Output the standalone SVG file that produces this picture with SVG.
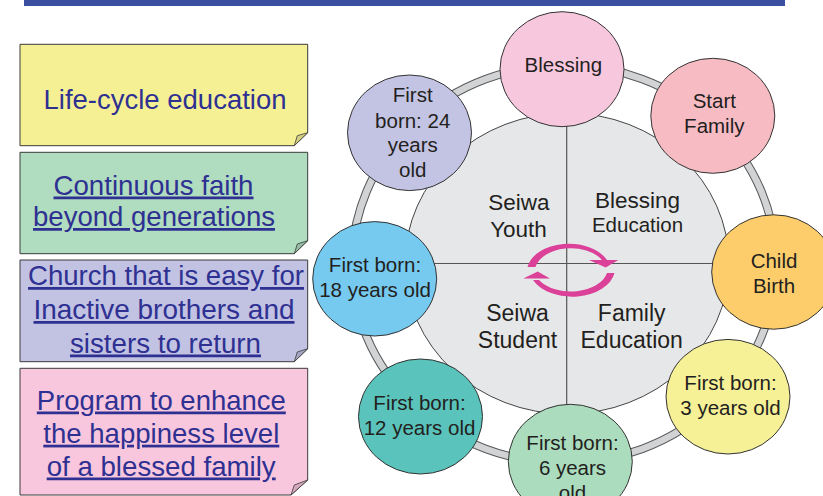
<svg xmlns="http://www.w3.org/2000/svg" width="823" height="496" viewBox="0 0 823 496">
<style>
text{font-family:"Liberation Sans",Arial,sans-serif;}
.lt{font-size:27.5px;fill:#2e3192;text-anchor:middle;}
.u{text-decoration:underline;}
.box{stroke:#3a3a3a;stroke-width:1;}
.flap{stroke:#3a3a3a;stroke-width:0.8;}
.node{stroke:#333;stroke-width:1;}
.ct{font-size:20.5px;fill:#231f20;text-anchor:middle;}
.it{fill:#231f20;text-anchor:middle;}
.arr{fill:#db4198;}
</style>
<rect x="24" y="0" width="761" height="6" fill="#3a4fa0"/>

<g id="box-lifecycle">
<path class="box" d="M20,44.3 H307.7 V132.7 L294.3,145.7 H20 Z" fill="#f6f095"/>
<path class="flap" d="M294.3,145.7 L297.3,135.7 L307.7,132.7 Z" fill="#d4ce83"/>
<text class="lt" x="165" y="109" textLength="243" lengthAdjust="spacingAndGlyphs">Life-cycle education</text>
</g>
<g id="box-faith">
<path class="box" d="M20,152.3 H307.7 V240.7 L294.3,253.7 H20 Z" fill="#b0dcbf"/>
<path class="flap" d="M294.3,253.7 L297.3,244 L307.7,240.7 Z" fill="#95bca3"/>
<text class="lt u" x="153.5" y="194.5" textLength="200" lengthAdjust="spacingAndGlyphs">Continuous faith</text>
<text class="lt u" x="154" y="226" textLength="242" lengthAdjust="spacingAndGlyphs">beyond generations</text>
</g>
<g id="box-church">
<path class="box" d="M20,260 H307.7 V348.7 L294.3,361.7 H20 Z" fill="#c2c2e2"/>
<path class="flap" d="M294.3,361.7 L297.3,352 L307.7,348.7 Z" fill="#a5a5c4"/>
<text class="lt u" x="166" y="285" textLength="276" lengthAdjust="spacingAndGlyphs">Church that is easy for</text>
<text class="lt u" x="164" y="319" textLength="261" lengthAdjust="spacingAndGlyphs">Inactive brothers and</text>
<text class="lt u" x="165.5" y="352.5" textLength="191" lengthAdjust="spacingAndGlyphs">sisters to return</text>
</g>
<g id="box-program">
<path class="box" d="M20,368.3 H307.7 V480 L291,495 H20 Z" fill="#f8c7dd"/>
<path class="flap" d="M291,495 L294.3,485 L307.7,480 Z" fill="#d6a9be"/>
<text class="lt u" x="161.3" y="409.5" textLength="249" lengthAdjust="spacingAndGlyphs">Program to enhance</text>
<text class="lt u" x="161.3" y="442.7" textLength="236" lengthAdjust="spacingAndGlyphs">the happiness level</text>
<text class="lt u" x="161.2" y="475.5" textLength="229" lengthAdjust="spacingAndGlyphs">of a blessed family</text>
</g>

<g id="connectors">
<ellipse cx="564" cy="264" rx="212" ry="199" fill="none" stroke="#58595b" stroke-width="8.5"/>
<ellipse cx="564" cy="264" rx="212" ry="199" fill="none" stroke="#d1d3d4" stroke-width="6.5"/>
</g>

<g id="center">
<ellipse cx="567" cy="263.5" rx="162" ry="150.5" fill="#e6e7e8" stroke="#444" stroke-width="1"/>
<line x1="566.7" y1="113" x2="566.7" y2="414" stroke="#555" stroke-width="1.2"/>
<line x1="405" y1="263.5" x2="729" y2="263.5" stroke="#555" stroke-width="1.2"/>
<text class="it" font-size="22.5" x="518.8" y="210">Seiwa</text>
<text class="it" font-size="22.5" x="518.5" y="236.7">Youth</text>
<text class="it" font-size="22.5" x="637.5" y="208.3">Blessing</text>
<text class="it" font-size="20.5" x="637.5" y="232.3">Education</text>
<text class="it" font-size="23" x="517.5" y="320.5">Seiwa</text>
<text class="it" font-size="23" x="517.5" y="348.3">Student</text>
<text class="it" font-size="23" x="631.7" y="320.7">Family</text>
<text class="it" font-size="23" x="631.7" y="348.3">Education</text>
<path class="arr" d="M527.5,267 A42,28 0 0 1 607,260 L602,260 A36,23.5 0 0 0 535.5,267 Z"/>
<path class="arr" d="M589,260 L618.3,260 L605.7,267.5 Z"/>
<path class="arr" d="M614.5,273 A43,28.5 0 0 1 533,280 L539,280 A37,23.5 0 0 0 607,273 Z"/>
<path class="arr" d="M523.3,278.5 L550,278.5 L537.7,271.5 Z"/>
</g>

<g id="node-blessing">
<ellipse class="node" cx="562" cy="69.2" rx="62" ry="57.5" fill="#f7c7de"/>
<text class="ct" x="563.3" y="71.7">Blessing</text>
</g>
<g id="node-startfamily">
<ellipse class="node" cx="712.8" cy="115.8" rx="62" ry="57.5" fill="#f7bbc4"/>
<text class="ct" x="714.3" y="108.3">Start</text>
<text class="ct" x="714.3" y="133.3">Family</text>
</g>
<g id="node-childbirth">
<ellipse class="node" cx="773.7" cy="272" rx="62" ry="57.2" fill="#fdcd6b"/>
<text class="ct" x="774" y="268.3">Child</text>
<text class="ct" x="774" y="292.7">Birth</text>
</g>
<g id="node-3">
<ellipse class="node" cx="728" cy="396.7" rx="62" ry="57.3" fill="#f6f097"/>
<text class="ct" x="730.5" y="390">First born:</text>
<text class="ct" x="730.5" y="415">3 years old</text>
</g>
<g id="node-6">
<ellipse class="node" cx="570.3" cy="461.6" rx="62" ry="57.3" fill="#acdcbe"/>
<text class="ct" x="572.5" y="450">First born:</text>
<text class="ct" x="572.5" y="475">6 years</text>
<text class="ct" x="572.5" y="500">old</text>
</g>
<g id="node-12">
<ellipse class="node" cx="420.5" cy="416.5" rx="62" ry="57.5" fill="#5ac3bb"/>
<text class="ct" x="419.5" y="410">First born:</text>
<text class="ct" x="419.5" y="435">12 years old</text>
</g>
<g id="node-18">
<ellipse class="node" cx="374.7" cy="278.8" rx="62" ry="57.2" fill="#76c9ef"/>
<text class="ct" x="375" y="271.7">First born:</text>
<text class="ct" x="375" y="296.7">18 years old</text>
</g>
<g id="node-24">
<ellipse class="node" cx="409.5" cy="132.8" rx="62" ry="57.8" fill="#c3c4e3"/>
<text class="ct" x="412.7" y="102.3">First</text>
<text class="ct" x="412.7" y="127.7">born: 24</text>
<text class="ct" x="412.7" y="151.7">years</text>
<text class="ct" x="412.7" y="176.7">old</text>
</g>
</svg>
